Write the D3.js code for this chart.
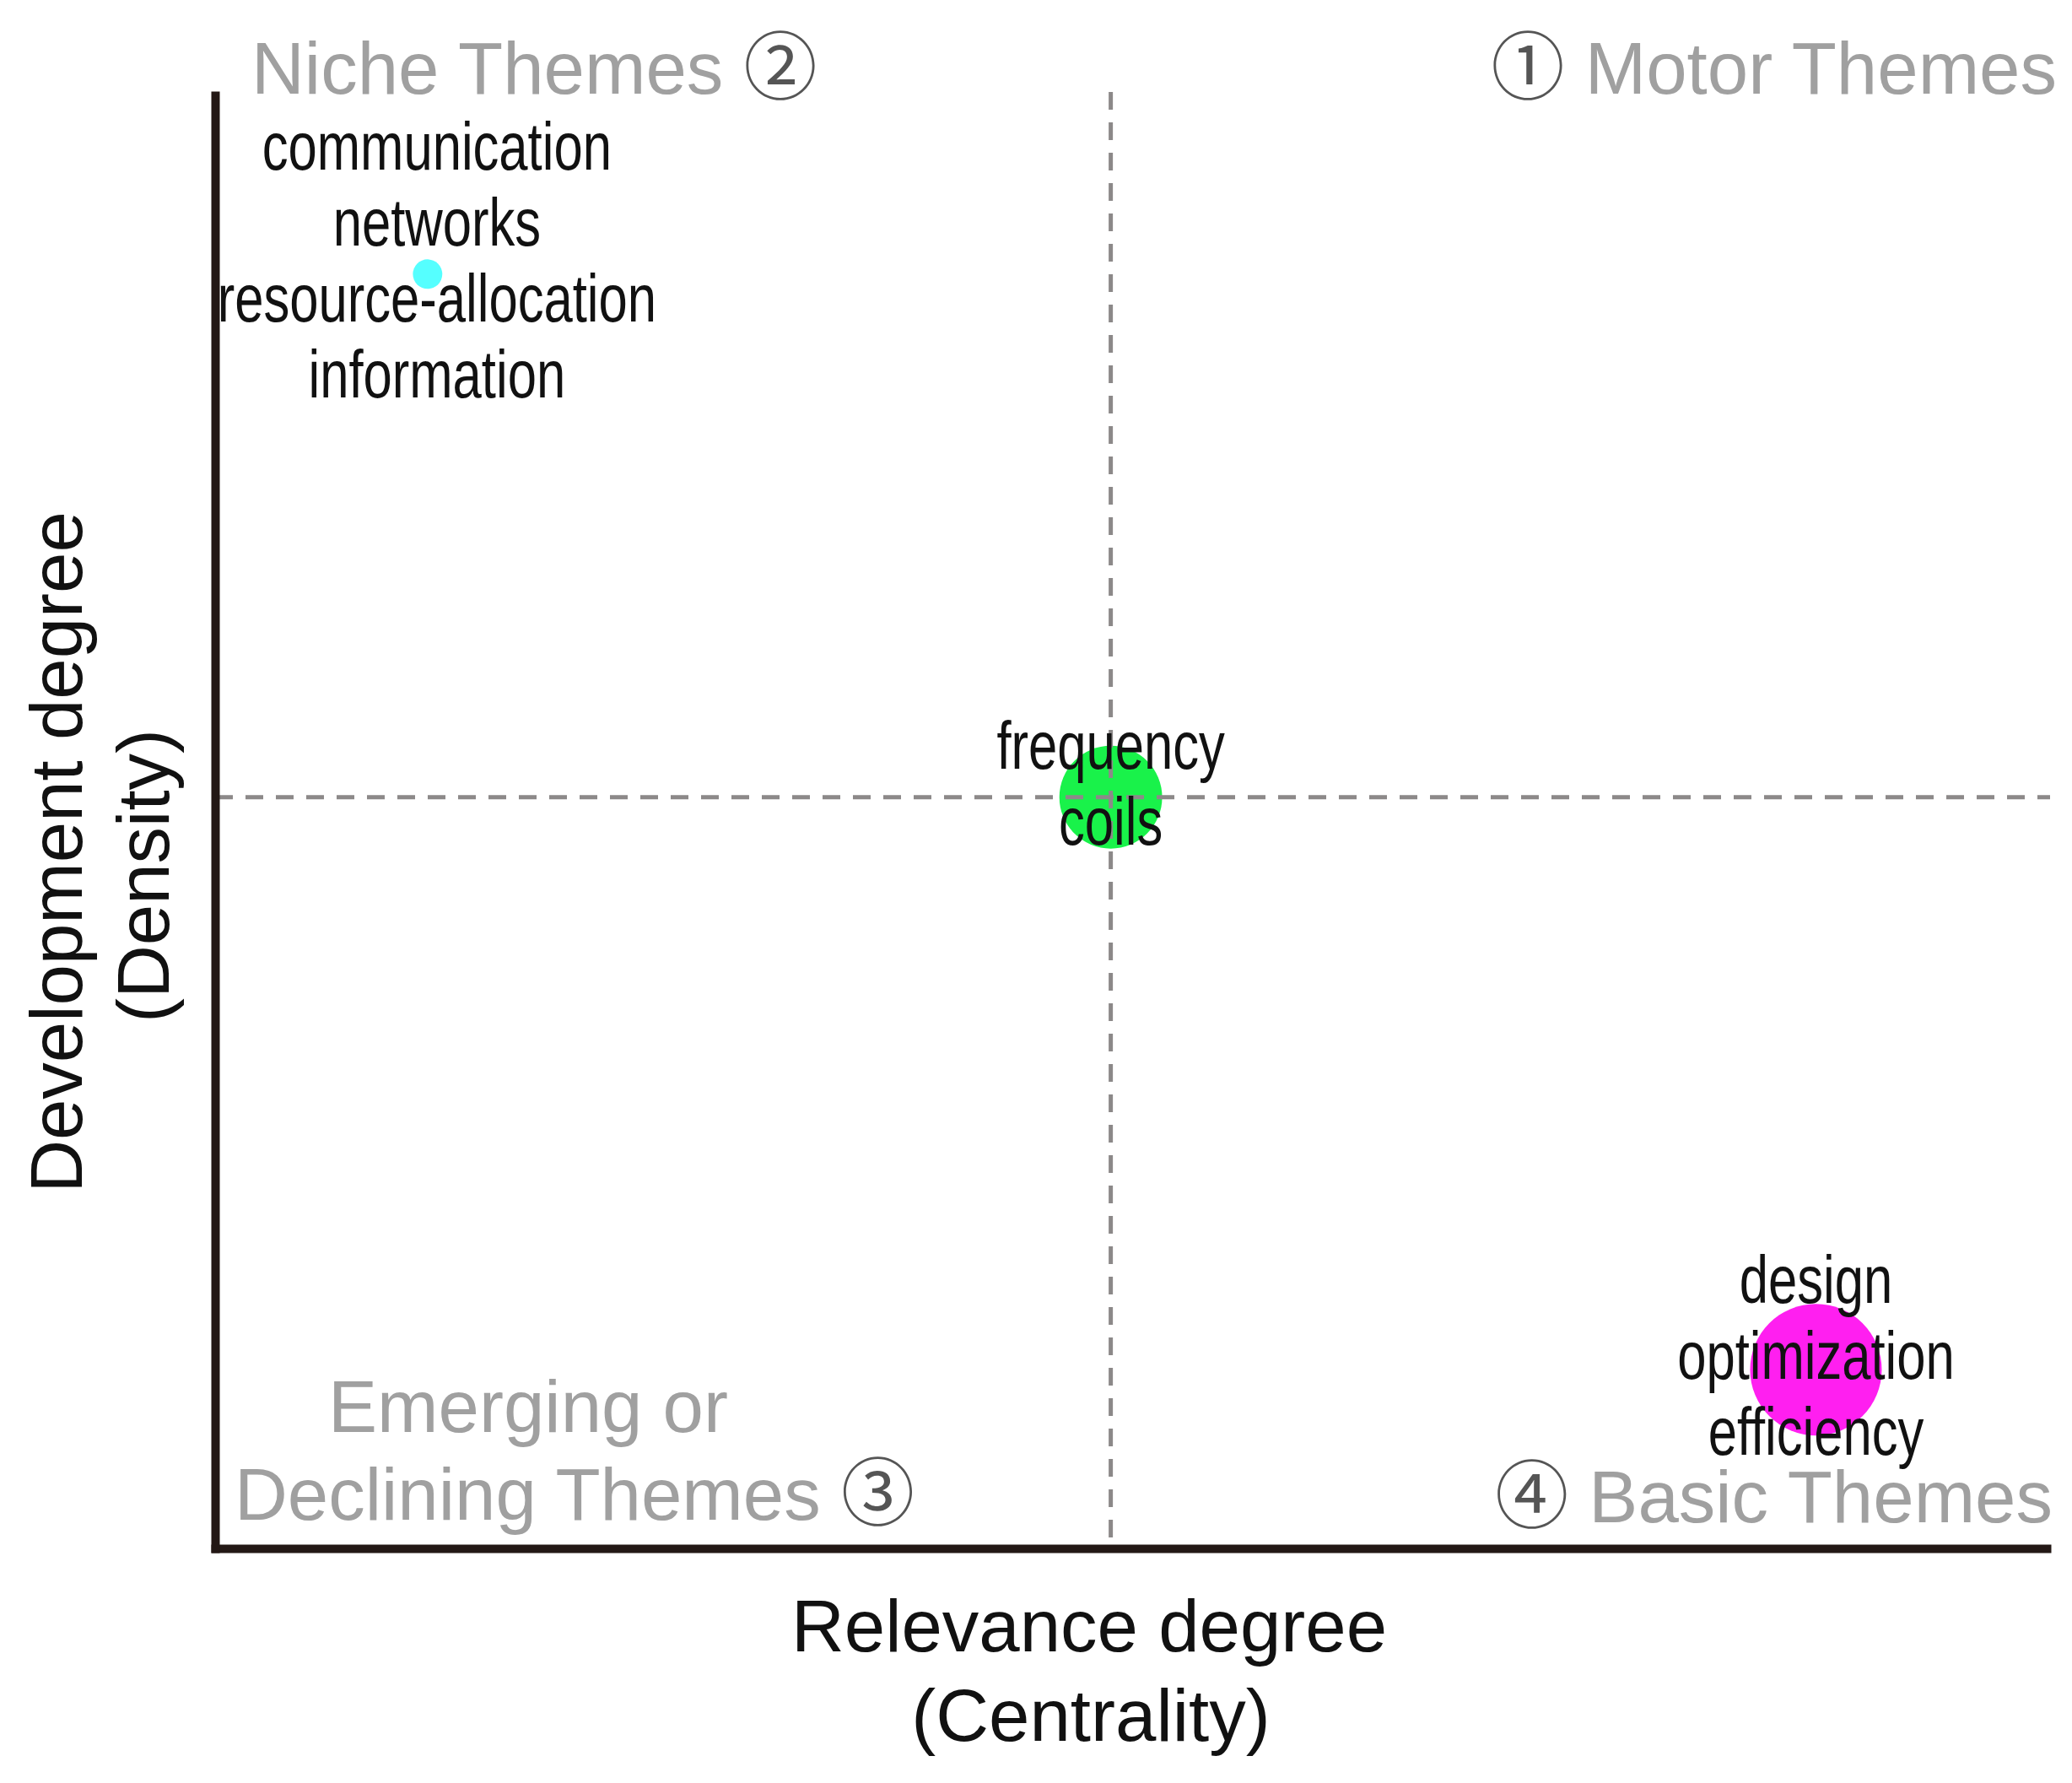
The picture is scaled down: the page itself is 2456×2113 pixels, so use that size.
<!DOCTYPE html>
<html>
<head>
<meta charset="utf-8">
<script src="https://cdn.jsdelivr.net/npm/d3@7"></script>
<style>
  html, body { margin: 0; padding: 0; background: #fff; }
  svg { display: block; }
</style>
</head>
<body>
<svg id="chart"></svg>
<script>
// Theme clusters (normalised centrality / density)
let themeNames = ['communication', 'frequency', 'design'];
let themeKeywords = [
    ['communication', 'networks', 'resource-allocation', 'information'],
    ['frequency', 'coils'],
    ['design', 'optimization', 'efficiency']
];
let centralityValues = [0.116, 0.489, 0.874];
let densityValues = [0.877, 0.517, 0.123];
let clusterSizes = [5, 61, 100];
let clusterColors = ['#55ffff', '#19f24a', '#ff1ff0'];

// Quadrant split (mean centrality / mean density)
let centralitySplit = 0.489;
let densitySplit = 0.517;

// Quadrant and axis labels
let quadrantLabels = ['Motor Themes', 'Niche Themes', 'Emerging or', 'Declining Themes', 'Basic Themes'];
let quadrantNumbers = ['\u2460', '\u2461', '\u2462', '\u2463'];
let xTitle = ['Relevance degree', '(Centrality)'];
let yTitle = ['Development degree', '(Density)'];

// SVG dimensions
let width = 2456, height = 2113;
let plotLeft = 255, plotRight = 2426, plotTop = 113, plotBottom = 1835;

let svg = d3.select('#chart');
svg.attr('width', width).attr('height', height);

let font = '"Liberation Sans", Arial, sans-serif';
let cjk = '"Noto Sans CJK JP", "DejaVu Sans", sans-serif';

// Scales
let xScale = d3.scaleLinear().domain([0, 1]).range([plotLeft, plotRight]);
let yScale = d3.scaleLinear().domain([0, 1]).range([plotBottom, plotTop]);
let rScale = d3.scaleSqrt().domain([0, d3.max(clusterSizes)]).range([0, 78]);

let data = themeNames.map((name, i) => ({
    name: name,
    keywords: themeKeywords[i],
    x: centralityValues[i],
    y: densityValues[i],
    size: clusterSizes[i],
    color: clusterColors[i]
}));

// Bubbles
svg.append('g')
    .selectAll('circle')
    .data(data)
    .enter()
    .append('circle')
    .attr('cx', (d) => xScale(d.x))
    .attr('cy', (d) => yScale(d.y))
    .attr('r', (d) => rScale(d.size))
    .attr('fill', (d) => d.color);

// Dashed quadrant lines
let guides = svg.append('g')
    .attr('stroke', '#8c8989')
    .attr('stroke-width', 5)
    .attr('stroke-dasharray', '21,15');

guides.append('line')
    .attr('x1', xScale(centralitySplit)).attr('x2', xScale(centralitySplit))
    .attr('y1', yScale(1) - 4).attr('y2', yScale(0));

guides.append('line')
    .attr('x1', xScale(0)).attr('x2', xScale(1) + 4)
    .attr('y1', yScale(densitySplit)).attr('y2', yScale(densitySplit));

// Axes without ticks
function styleAxis(g) {
    g.select('.domain')
        .attr('stroke', '#231815')
        .attr('stroke-width', 10)
        .attr('stroke-linecap', 'square');
}

svg.append('g')
    .attr('transform', `translate(0, ${plotBottom})`)
    .call(d3.axisBottom(xScale).tickValues([]).tickSizeOuter(0))
    .call(styleAxis);

svg.append('g')
    .attr('transform', `translate(${plotLeft}, 0)`)
    .call(d3.axisLeft(yScale).tickValues([]).tickSizeOuter(0))
    .call(styleAxis);

// Keyword labels (condensed); the niche block sits a little right of its dot
let lineGap = 90;
let labelShift = { communication: 11 };
let labels = svg.append('g');
data.forEach((d) => {
    let n = d.keywords.length;
    let lx = xScale(d.x) + (labelShift[d.name] || 0);
    d.keywords.forEach((k, i) => {
        let ly = yScale(d.y) + (i - (n - 1) / 2) * lineGap + 11;
        labels.append('text')
            .attr('transform', `translate(${lx}, ${ly}) scale(0.77, 1)`)
            .attr('text-anchor', 'middle')
            .attr('font-family', font)
            .attr('font-size', 80)
            .attr('fill', '#111')
            .text(k);
    });
});

// Quadrant labels
let q = svg.append('g')
    .attr('font-family', font)
    .attr('font-size', 87)
    .attr('fill', '#a0a0a0');

function numSpan(t, num) {
    t.append('tspan').attr('font-family', cjk).attr('fill', '#555').text(num);
}

let niche = q.append('text').attr('x', 298).attr('y', 111);
niche.append('tspan').text(quadrantLabels[1] + ' ');
numSpan(niche, quadrantNumbers[1]);

let motor = q.append('text').attr('x', 2438).attr('y', 111).attr('text-anchor', 'end');
numSpan(motor, quadrantNumbers[0]);
motor.append('tspan').text(' ' + quadrantLabels[0]);

q.append('text').attr('x', 626).attr('y', 1697).attr('text-anchor', 'middle')
    .text(quadrantLabels[2]);

let declining = q.append('text').attr('x', 278).attr('y', 1801);
declining.append('tspan').text(quadrantLabels[3] + ' ');
numSpan(declining, quadrantNumbers[2]);

let basic = q.append('text').attr('x', 2433).attr('y', 1804).attr('text-anchor', 'end');
numSpan(basic, quadrantNumbers[3]);
basic.append('tspan').text(' ' + quadrantLabels[4]);

// Axis titles
let titles = svg.append('g')
    .attr('font-family', font)
    .attr('font-size', 87)
    .attr('fill', '#111')
    .attr('text-anchor', 'middle');

titles.append('text').attr('x', 1291).attr('y', 1957).text(xTitle[0]);
titles.append('text').attr('x', 1293).attr('y', 2063).text(xTitle[1]);

titles.append('text')
    .attr('transform', 'translate(97, 1010) rotate(-90)')
    .text(yTitle[0]);
titles.append('text')
    .attr('transform', 'translate(200, 1038) rotate(-90)')
    .text(yTitle[1]);
</script>
</body>
</html>
